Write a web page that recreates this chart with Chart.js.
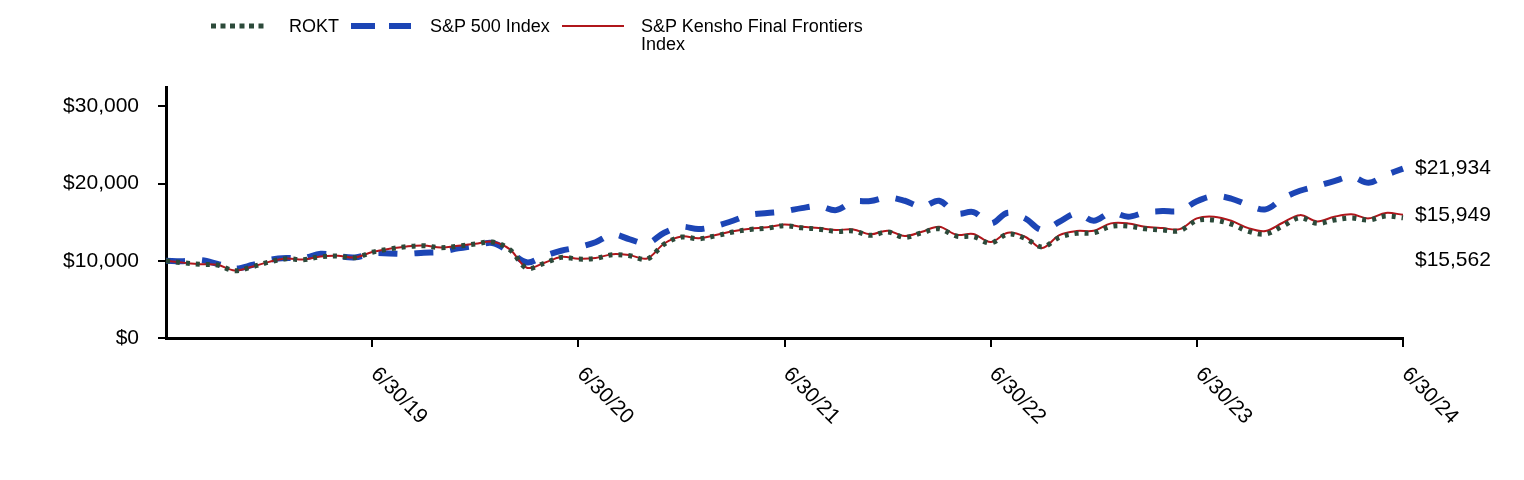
<!DOCTYPE html>
<html>
<head>
<meta charset="utf-8">
<script src="https://cdn.jsdelivr.net/npm/chart.js@4.4.1/dist/chart.umd.min.js"></script>
<style>
  body { margin: 0; background: #fff; }
  #wrap { position: relative; width: 1524px; height: 480px; font-family: "Liberation Sans", Arial, sans-serif; }
  #chart { position: absolute; left: 0; top: 0; }
  .lg { position: absolute; font-size: 18px; line-height: 18px; color: #000; white-space: nowrap; }
  .sw { position: absolute; }
</style>
</head>
<body>
<div id="wrap">
  <canvas id="chart" width="1524" height="480"></canvas>
  <svg class="sw" style="left:210px;top:21px" width="56" height="10"><line x1="1" y1="5" x2="56" y2="5" stroke="#2c4a3a" stroke-width="5" stroke-dasharray="5 4.5"/></svg>
  <div class="lg" style="left:289px;top:17px">ROKT</div>
  <svg class="sw" style="left:351px;top:21px" width="62" height="10"><line x1="0" y1="5" x2="60" y2="5" stroke="#1c45b5" stroke-width="6" stroke-dasharray="24 14"/></svg>
  <div class="lg" style="left:430px;top:17px">S&amp;P 500 Index</div>
  <svg class="sw" style="left:562px;top:21px" width="64" height="10"><line x1="0" y1="5" x2="62" y2="5" stroke="#b0161b" stroke-width="2"/></svg>
  <div class="lg" style="left:641px;top:17px">S&amp;P Kensho Final Frontiers<br>Index</div>
</div>
<script>
const dates = [
  '6/30/18', '7/31/18', '8/31/18', '9/30/18', '10/31/18', '11/30/18', '12/31/18',
  '1/31/19', '2/28/19', '3/31/19', '4/30/19', '5/31/19', '6/30/19',
  '7/31/19', '8/31/19', '9/30/19', '10/31/19', '11/30/19', '12/31/19',
  '1/31/20', '2/29/20', '3/31/20', '4/30/20', '5/31/20', '6/30/20',
  '7/31/20', '8/31/20', '9/30/20', '10/31/20', '11/30/20', '12/31/20',
  '1/31/21', '2/28/21', '3/31/21', '4/30/21', '5/31/21', '6/30/21',
  '7/31/21', '8/31/21', '9/30/21', '10/31/21', '11/30/21', '12/31/21',
  '1/31/22', '2/28/22', '3/31/22', '4/30/22', '5/31/22', '6/30/22',
  '7/31/22', '8/31/22', '9/30/22', '10/31/22', '11/30/22', '12/31/22',
  '1/31/23', '2/28/23', '3/31/23', '4/30/23', '5/31/23', '6/30/23',
  '7/31/23', '8/31/23', '9/30/23', '10/31/23', '11/30/23', '12/31/23',
  '1/31/24', '2/29/24', '3/31/24', '4/30/24', '5/31/24', '6/30/24'
];

const tickLabels = ['6/30/19', '6/30/20', '6/30/21', '6/30/22', '6/30/23', '6/30/24'];
const yTicks = [0, 10000, 20000, 30000];

const rokt = [
  10000, 9740, 9530, 9450, 8700, 9200, 9830,
  10270, 10140, 10530, 10610, 10400, 11100,
  11520, 11820, 11950, 11690, 11900, 12160,
  12420, 11470, 9050, 9660, 10440, 10220,
  10310, 10780, 10650, 10220, 12160, 13070,
  12850, 13240, 13720, 14060, 14230, 14550,
  14270, 14100, 13800, 13850, 13290, 13720,
  13030, 13630, 14140, 13200, 13110, 12300,
  13460, 12900, 11780, 13030, 13550, 13630,
  14450, 14490, 14140, 13980, 13890, 15200,
  15270, 14750, 13800, 13460, 14490, 15570,
  14840, 15270, 15530, 15270, 15790, 15562
];

const sp500 = [
  10000, 9950, 10100, 9600, 9000, 9450, 10100,
  10350, 10350, 10900, 10610, 10440, 10950,
  10950, 10900, 11050, 11150, 11600, 11950,
  12300, 11170, 9800, 10600, 11300, 11750,
  12400, 13400, 12770, 12250, 13630, 14400,
  14100, 14490, 15180, 15960, 16180, 16400,
  16820, 17080, 16560, 17640, 17730, 18200,
  17770, 16990, 17770, 16130, 16300, 14840,
  16220, 15490, 13980, 15050, 16130, 15180,
  16220, 15700, 16260, 16430, 16470, 17700,
  18380, 18050, 17210, 16650, 18070, 19060,
  19670, 20320, 20870, 20100, 21090, 21934
];

const kensho = [
  10000, 9760, 9560, 9480, 8750, 9230, 9860,
  10300, 10170, 10560, 10640, 10430, 11130,
  11550, 11860, 11990, 11730, 11940, 12200,
  12470, 11510, 9100, 9710, 10490, 10270,
  10360, 10850, 10720, 10290, 12240, 13150,
  12930, 13330, 13810, 14160, 14340, 14700,
  14400, 14230, 13980, 14060, 13420, 13890,
  13200, 13760, 14400, 13370, 13460, 12420,
  13630, 13110, 11650, 13330, 13850, 13890,
  14840, 14840, 14400, 14230, 14100, 15490,
  15700, 15180, 14230, 13850, 14920, 15910,
  15100, 15700, 16010, 15490, 16200, 15949
];

const FONT = '"Liberation Sans", Arial, sans-serif';

// rotated date labels under the x axis (they run down to the right)
const xLabelsPlugin = {
  id: 'xLabels',
  afterDraw(chart) {
    const ctx = chart.ctx;
    const xs = chart.scales.x;
    ctx.save();
    ctx.font = '21px ' + FONT;
    ctx.fillStyle = '#000';
    ctx.textAlign = 'left';
    ctx.textBaseline = 'middle';
    dates.forEach((d, i) => {
      if (!tickLabels.includes(d)) return;
      ctx.save();
      ctx.translate(xs.getPixelForValue(i) + 2, xs.top + 33);
      ctx.rotate(Math.PI / 4);
      ctx.fillText(d, 0, 0);
      ctx.restore();
    });
    ctx.restore();
  }
};

// ending values at the right, pushed apart when they collide
const endLabelsPlugin = {
  id: 'endLabels',
  afterDatasetsDraw(chart) {
    const ctx = chart.ctx;
    const ys = chart.scales.y;
    const items = chart.data.datasets
      .map(ds => ds.data[ds.data.length - 1])
      .sort((a, b) => b - a);
    ctx.save();
    ctx.font = '21px ' + FONT;
    ctx.fillStyle = '#000';
    ctx.textAlign = 'left';
    ctx.textBaseline = 'middle';
    let prev = -Infinity;
    items.forEach(v => {
      let py = ys.getPixelForValue(v);
      if (py < prev + 45) py = prev + 45;
      prev = py;
      ctx.fillText('$' + v.toLocaleString('en-US'), chart.chartArea.right + 12, py);
    });
    ctx.restore();
  }
};

new Chart(document.getElementById('chart'), {
  type: 'line',
  data: {
    labels: dates,
    datasets: [
      {
        label: 'ROKT',
        data: rokt,
        borderColor: '#2c4a3a',
        borderWidth: 5,
        borderDash: [4, 6],
        order: 0
      },
      {
        label: 'S&P 500 Index',
        data: sp500,
        borderColor: '#1c45b5',
        borderWidth: 6,
        borderDash: [19, 17],
        order: 2
      },
      {
        label: 'S&P Kensho Final Frontiers Index',
        data: kensho,
        borderColor: '#b0161b',
        borderWidth: 2,
        order: 1
      }
    ]
  },
  options: {
    responsive: false,
    animation: false,
    elements: { point: { radius: 0 }, line: { tension: 0.35 } },
    layout: { padding: { top: 87, right: 121, left: 0, bottom: 0 } },
    plugins: {
      legend: { display: false },
      tooltip: { enabled: false }
    },
    scales: {
      x: {
        type: 'category',
        offset: false,
        border: { display: true, color: '#000', width: 3 },
        grid: {
          drawOnChartArea: false,
          drawTicks: true,
          tickLength: 9,
          lineWidth: 2,
          color: c => (c.index > 0 && c.index % 12 === 0) ? '#000' : 'rgba(0,0,0,0)'
        },
        ticks: { autoSkip: false, maxRotation: 0, callback: () => '' },
        afterFit: s => { s.height = 142; }
      },
      y: {
        min: 0,
        max: 32500,
        border: { display: true, color: '#000', width: 3 },
        grid: { drawOnChartArea: false, drawTicks: true, tickLength: 8, lineWidth: 2, color: '#000' },
        ticks: {
          padding: 19,
          color: '#000',
          font: { family: FONT, size: 21 },
          callback: v => '$' + v.toLocaleString('en-US')
        },
        afterBuildTicks: s => { s.ticks = yTicks.map(v => ({ value: v })); },
        afterFit: s => { s.width = 166; }
      }
    }
  },
  plugins: [xLabelsPlugin, endLabelsPlugin]
});
</script>
</body>
</html>
